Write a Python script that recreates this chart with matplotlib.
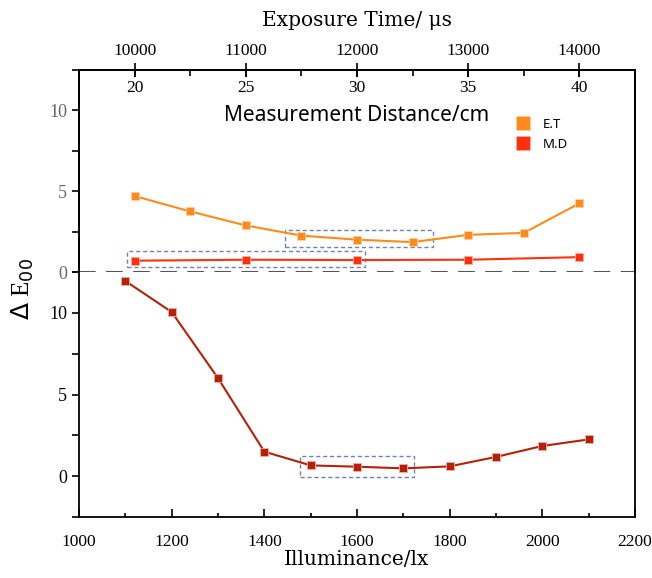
import matplotlib
matplotlib.use("Agg")
import matplotlib.pyplot as plt
from matplotlib.patches import Rectangle
from matplotlib.lines import Line2D
from matplotlib.ticker import MultipleLocator

# exposure time series (top panel, outer top axis)
exposure_us = [10000, 10500, 11000, 11500, 12000, 12500, 13000, 13500, 14000]
de_exposure = [4.70, 3.75, 2.88, 2.25, 2.00, 1.85, 2.30, 2.42, 4.25]

# measurement distance series (top panel, inner top axis)
distance_cm = [20, 25, 30, 35, 40]
de_distance = [0.70, 0.76, 0.74, 0.76, 0.92]

# illuminance series (bottom panel)
illum_lx = [1100, 1200, 1300, 1400, 1500, 1600, 1700, 1800, 1900, 2000, 2100]
de_illum = [11.95, 10.05, 6.0, 1.5, 0.66, 0.58, 0.48, 0.60, 1.18, 1.85, 2.25]

# highlighted ranges (x0, x1, y0, y1)
box_exposure = (11350, 12680, 1.54, 2.60)
box_distance = (19.65, 30.35, 0.33, 1.31)
box_illum = (1477, 1723, -0.08, 1.23)

serif = "Liberation Serif"
title_font = "DejaVu Serif"
c_et = "#ff8a1c"
c_md = "#ff3010"
c_il = "#b5200a"
c_box = "#6f82b4"

fig = plt.figure(figsize=(6.52, 5.78), dpi=100)
ax1 = fig.add_axes([0.1212, 0.5294, 0.8528, 0.3495])
ax2 = fig.add_axes([0.1212, 0.1055, 0.8528, 0.4239])
ax1d = ax1.twiny()

# ---- top panel: exposure time
ax1.plot(exposure_us, de_exposure, color=c_et, lw=1.5, marker="s", ms=6,
         mec="#ffd0a0", mew=0.6)
ax1.set_xlim(9500, 14500)
ax1.set_ylim(0, 12.5)
ax1.xaxis.tick_top()
ax1.xaxis.set_label_position("top")
ax1.set_xticks([10000, 11000, 12000, 13000, 14000])
ax1.xaxis.set_minor_locator(MultipleLocator(500))
ax1.tick_params(axis="x", which="major", direction="inout", length=10, width=1.2,
                labelsize=12.5, pad=3, top=True, bottom=False,
                labeltop=True, labelbottom=False, labelfontfamily=serif)
ax1.tick_params(axis="x", which="minor", direction="in", length=4, width=1.2,
                top=True, bottom=False)
ax1.set_xlabel("Exposure Time/ μs", fontsize=14.5, family=title_font, labelpad=12)
ax1.set_yticks([0, 5, 10])
ax1.yaxis.set_minor_locator(MultipleLocator(2.5))
ax1.tick_params(axis="y", which="both", direction="out", length=5, width=1.2,
                labelsize=13, labelcolor="#666666", labelfontfamily=serif)
ax1.spines["bottom"].set_visible(False)
ax1.axhline(0, color="#555555", lw=1.5, dashes=(8, 5), clip_on=False, zorder=1)
ax1.add_patch(Rectangle((box_exposure[0], box_exposure[2]),
                        box_exposure[1] - box_exposure[0], box_exposure[3] - box_exposure[2],
                        fill=False, ec=c_box, lw=1, ls=(0, (3, 2))))

# ---- top panel: measurement distance
ax1d.plot(distance_cm, de_distance, color=c_md, lw=1.5, marker="s", ms=6,
          mec="#ffb0a0", mew=0.6)
ax1d.set_xlim(17.5, 42.5)
ax1d.set_xticks([20, 25, 30, 35, 40])
ax1d.xaxis.set_minor_locator(MultipleLocator(2.5))
ax1d.tick_params(axis="x", which="major", direction="in", length=5, width=1.2,
                 labelsize=12.5, pad=-19, top=True, bottom=False,
                 labelbottom=False, labelfontfamily=serif)
ax1d.tick_params(axis="x", which="minor", direction="in", length=0, bottom=False)
ax1d.spines["bottom"].set_visible(False)
ax1d.text(0.5, 0.775, "Measurement Distance/cm", transform=ax1d.transAxes,
          ha="center", va="center", fontsize=15, family="Noto Sans")
ax1d.add_patch(Rectangle((box_distance[0], box_distance[2]),
                         box_distance[1] - box_distance[0], box_distance[3] - box_distance[2],
                         fill=False, ec=c_box, lw=1, ls=(0, (3, 2))))

handles = [Line2D([], [], ls="none", marker="s", ms=10, color=c_et, mec="#ffd0a0", mew=0.5),
           Line2D([], [], ls="none", marker="s", ms=10, color=c_md, mec="#ffb0a0", mew=0.5)]
ax1d.legend(handles, ["E.T", "M.D"], loc="upper left", bbox_to_anchor=(0.765, 0.79),
            frameon=False, prop={"family": "Noto Sans", "size": 9.5},
            handletextpad=0.5, labelspacing=0.55, borderaxespad=0)

# ---- bottom panel: illuminance
ax2.plot(illum_lx, de_illum, color=c_il, lw=1.5, marker="s", ms=5.5,
         mec="#f0b0a0", mew=0.6)
ax2.set_xlim(1000, 2200)
ax2.set_ylim(-2.5, 12.5)
ax2.set_xticks(range(1000, 2201, 200))
ax2.xaxis.set_minor_locator(MultipleLocator(100))
ax2.tick_params(axis="x", which="major", direction="in", length=6, width=1.2,
                labelsize=12.5, pad=12, top=False, labelfontfamily=serif)
ax2.tick_params(axis="x", which="minor", direction="in", length=3, width=1.2, top=False)
ax2.set_yticks([0, 5, 10])
ax2.yaxis.set_minor_locator(MultipleLocator(2.5))
ax2.tick_params(axis="y", which="both", direction="out", length=5, width=1.2,
                labelsize=13, labelfontfamily=serif)
ax2.set_xlabel("Illuminance/lx", fontsize=14.5, family=title_font, labelpad=0)
ax2.spines["top"].set_visible(False)
ax2.add_patch(Rectangle((box_illum[0], box_illum[2]),
                        box_illum[1] - box_illum[0], box_illum[3] - box_illum[2],
                        fill=False, ec=c_box, lw=1, ls=(0, (3, 2))))

for a in (ax1, ax1d, ax2):
    for s in a.spines.values():
        s.set_linewidth(1.3)

fig.text(0.035, 0.5, r"$\Delta$ E$_{00}$", rotation=90, ha="center", va="center",
         fontsize=18, family=serif)

fig.savefig("out.png", dpi=100)
